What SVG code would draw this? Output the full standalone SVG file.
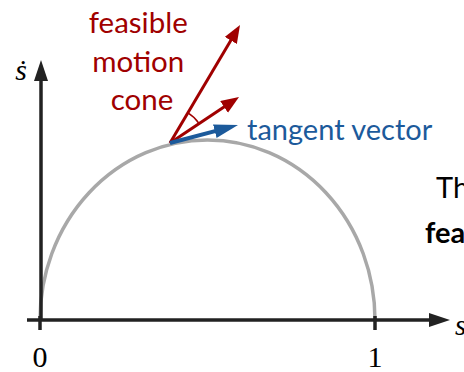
<svg xmlns="http://www.w3.org/2000/svg" width="464" height="372" viewBox="0 0 464 372">
  <style>
    .sans { font-family: Lato, "Open Sans", "Noto Sans", sans-serif; }
    .serif { font-family: "Liberation Serif", "DejaVu Serif", serif; }
    .red { fill: #a00000; }
    .blue { fill: #1c5a9b; }
    .axis { stroke: #222222; stroke-width: 3.5; fill: none; }
    .curve { stroke: #a8a8a8; stroke-width: 3.5; fill: none; }
    .redline { stroke: #a00000; stroke-width: 3; fill: none; }
    .blueline { stroke: #1c5a9b; stroke-width: 4; fill: none; }
  </style>
  <defs>
    <marker id="axhead" markerUnits="userSpaceOnUse" markerWidth="24" markerHeight="16" refX="10" refY="7" orient="auto">
      <path d="M0,0 L21,7 L0,14 z" fill="#222222"/>
    </marker>
    <marker id="redhead" markerUnits="userSpaceOnUse" markerWidth="20" markerHeight="16" refX="8" refY="7" orient="auto">
      <path d="M0,0 L18,7 L0,14 z" fill="#a00000"/>
    </marker>
    <marker id="bluehead" markerUnits="userSpaceOnUse" markerWidth="26" markerHeight="16" refX="12" refY="7" orient="auto">
      <path d="M0,0 L24,7 L0,14 z" fill="#1c5a9b"/>
    </marker>
  </defs>

  <g id="curve">
    <path class="curve" d="M40,320 A167.5,180 0 0 1 375,320"/>
  </g>

  <g id="axes">
    <line class="axis" x1="41" y1="320" x2="41" y2="71" marker-end="url(#axhead)"/>
    <line class="axis" x1="27" y1="320" x2="439" y2="320" marker-end="url(#axhead)"/>
    <line class="axis" x1="40" y1="316" x2="40" y2="330"/>
    <line class="axis" x1="375" y1="316" x2="375" y2="330"/>
  </g>

  <g id="labels">
    <text class="serif" x="40" y="367" font-size="30" text-anchor="middle">0</text>
    <text class="serif" x="375" y="367" font-size="30" text-anchor="middle">1</text>
    <text class="serif" x="21" y="80" font-size="30" font-style="italic" text-anchor="middle">ṡ</text>
    <text class="serif" x="455" y="335" font-size="29" font-style="italic">s</text>
  </g>

  <g id="connectors">
    <line class="redline" x1="170" y1="143" x2="234.9" y2="33.6" marker-end="url(#redhead)"/>
    <line class="redline" x1="170" y1="143" x2="230.7" y2="102.5" marker-end="url(#redhead)"/>
    <path d="M187.9,112.9 A35,35 0 0 1 199.1,123.6" stroke="#a00000" stroke-width="1.5" fill="none"/>
    <line class="blueline" x1="170" y1="143" x2="226.4" y2="128.1" marker-end="url(#bluehead)"/>
  </g>

  <g id="cone-label">
    <text class="sans red" font-size="29.5" text-anchor="middle">
      <tspan x="142" y="33">feasible</tspan>
      <tspan x="142" y="72">motion</tspan>
      <tspan x="142" y="110">cone</tspan>
    </text>
  </g>

  <g id="tangent-label">
    <text class="sans blue" x="247" y="140" font-size="29">tangent vector</text>
  </g>

  <g id="side-text">
    <text class="sans" x="436" y="198" font-size="29" fill="#000000">Th</text>
    <text class="sans" x="425" y="243" font-size="29" font-weight="bold" fill="#000000">fea</text>
  </g>
</svg>
